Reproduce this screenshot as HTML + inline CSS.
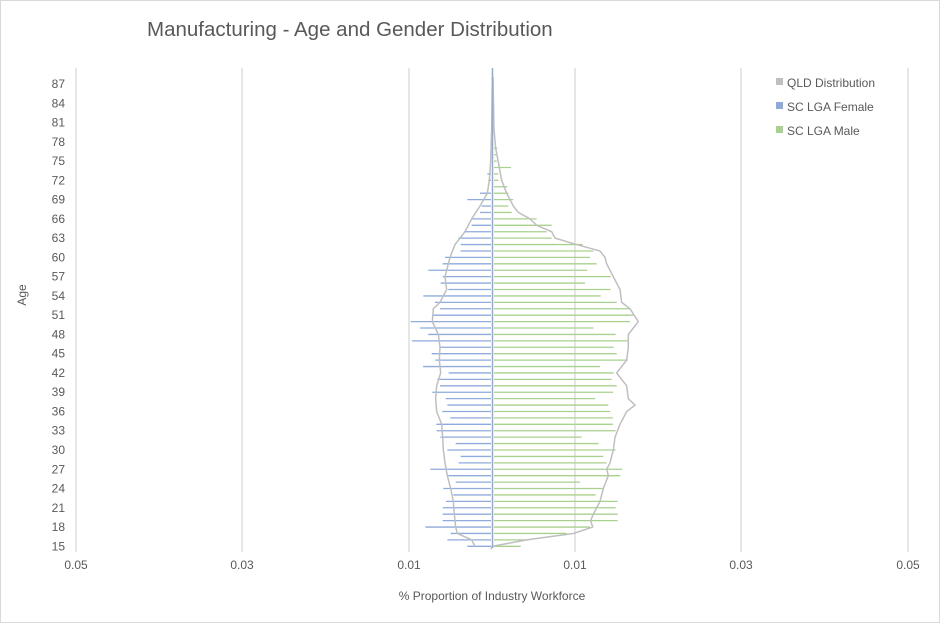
<!DOCTYPE html>
<html><head><meta charset="utf-8"><style>
body{margin:0;background:#fff}
svg{display:block;font-family:"Liberation Sans",sans-serif}
</style></head><body>
<svg id="s" width="940" height="623" xmlns="http://www.w3.org/2000/svg">
<rect x="0.5" y="0.5" width="939" height="622" fill="#fff" stroke="#d9d9d9"/>
<text x="147" y="36" font-size="20.5" fill="#595959">Manufacturing - Age and Gender Distribution</text>
<g stroke="#d9d9d9" stroke-width="1.3">
<line x1="76" y1="68" x2="76" y2="552"/><line x1="242" y1="68" x2="242" y2="552"/>
<line x1="409" y1="68" x2="409" y2="552"/><line x1="575" y1="68" x2="575" y2="552"/>
<line x1="741" y1="68" x2="741" y2="552"/><line x1="908" y1="68" x2="908" y2="552"/>
</g>
<g font-size="12" fill="#595959" text-anchor="middle">
<text x="76" y="569">0.05</text><text x="242" y="569">0.03</text><text x="409" y="569">0.01</text>
<text x="575" y="569">0.01</text><text x="741" y="569">0.03</text><text x="908" y="569">0.05</text>
<text x="492" y="600">% Proportion of Industry Workforce</text>
<text transform="translate(26,295) rotate(-90)">Age</text>
</g>
<g id="yl" font-size="12" fill="#595959" text-anchor="end"></g>
<g id="bars"></g>
<g font-size="12" fill="#595959">
<rect x="776" y="78" width="7" height="7" fill="#bfbfbf"/><text x="787" y="87">QLD Distribution</text>
<rect x="776" y="102" width="7" height="7" fill="#8faadc"/><text x="787" y="111">SC LGA Female</text>
<rect x="776" y="126" width="7" height="7" fill="#a9d18e"/><text x="787" y="135">SC LGA Male</text>
</g>
</svg>
<script>
var ns="http://www.w3.org/2000/svg";
function Y(a){return 546.3-(a-15)*6.42;}
function X(z){return 400+z/3;}
var yl=document.getElementById('yl');
for(var a=15;a<=87;a+=3){var t=document.createElementNS(ns,'text');t.setAttribute('x',65);t.setAttribute('y',Y(a)+4);t.textContent=a;yl.appendChild(t);}
var B={15:[202,362],16:[142,387],17:[152,500],18:[76,570],19:[128,653],20:[128,653],21:[128,647],22:[138,653],23:[160,587],24:[130,612],25:[167,540],26:[145,661],27:[91,667],28:[176,620],29:[182,610],30:[142,647],31:[167,596],32:[121,545],33:[110,647],34:[109,639],35:[151,639],36:[127,631],37:[142,625],38:[137,585],39:[97,639],40:[120,650],41:[112,635],42:[146,641],43:[69,600],44:[106,683],45:[95,650],46:[120,641],47:[36,683],48:[85,647],49:[60,580],50:[32,690],51:[97,700],52:[120,690],53:[105,650],54:[70,602],55:[145,632],56:[122,555],57:[128,632],58:[85,562],59:[128,590],60:[135,570],61:[182,580],62:[182,548],63:[175,455],64:[192,440],65:[215,455],66:[215,410],67:[240,335],68:[245,325],69:[202,340],70:[240,325],71:[277,322],72:[265,295],73:[262,295],74:[277,333],75:[277,290],76:[277,288],77:[277,292]};
var g=document.getElementById('bars');
function ln(x1,y1,x2,y2,c,w){var l=document.createElementNS(ns,'line');l.setAttribute('x1',x1);l.setAttribute('y1',y1);l.setAttribute('x2',x2);l.setAttribute('y2',y2);l.setAttribute('stroke',c);l.setAttribute('stroke-width',w);g.appendChild(l);}
for(var k in B){var y=Y(+k),b=B[k];if(b[0]<275)ln(X(b[0]),y,491,y,'#8faadc',1.3);if(b[1]>280)ln(494,y,X(b[1]),y,'#a9d18e',1.3);}
var L=[[15,225],[16,215],[17,172],[18,167],[19,165],[20,163],[22,160],[24,152],[26,142],[28,135],[30,130],[32,128],[34,125],[36,110],[38,107],[40,110],[42,122],[44,118],[46,120],[48,115],[50,97],[52,100],[53,120],[55,140],[57,135],[60,150],[62,165],[64,195],[66,215],[68,240],[70,262],[72,268],[75,272],[80,275],[88,277]];
var R=[[88,279],[80,282],[77,287],[74,298],[72,305],[70,320],[68,340],[67,355],[66,390],[65,410],[64,455],[63,465],[62,530],[61,600],[60,615],[59,620],[57,640],[55,660],[53,665],[52,690],[50,715],[48,685],[46,685],[44,680],[42,650],[40,680],[38,685],[37,705],[36,680],[34,660],[32,645],[30,640],[28,630],[27,620],[26,625],[24,610],[22,600],[20,580],[19,572],[18,578],[17,520],[16,380],[15,277]];
var p=L.map(function(q){return X(q[1])+','+Y(q[0]);}).concat(R.map(function(q){return X(q[1])+','+Y(q[0]);}));
p.push(X(273)+','+(Y(15)+3));
var pl=document.createElementNS(ns,'polyline');pl.setAttribute('points',p.join(' '));pl.setAttribute('fill','none');pl.setAttribute('stroke','#bfbfbf');pl.setAttribute('stroke-width','1.5');g.appendChild(pl);
ln(492.5,68,492.5,548,'#8faadc',1.5);
</script>
</body></html>
